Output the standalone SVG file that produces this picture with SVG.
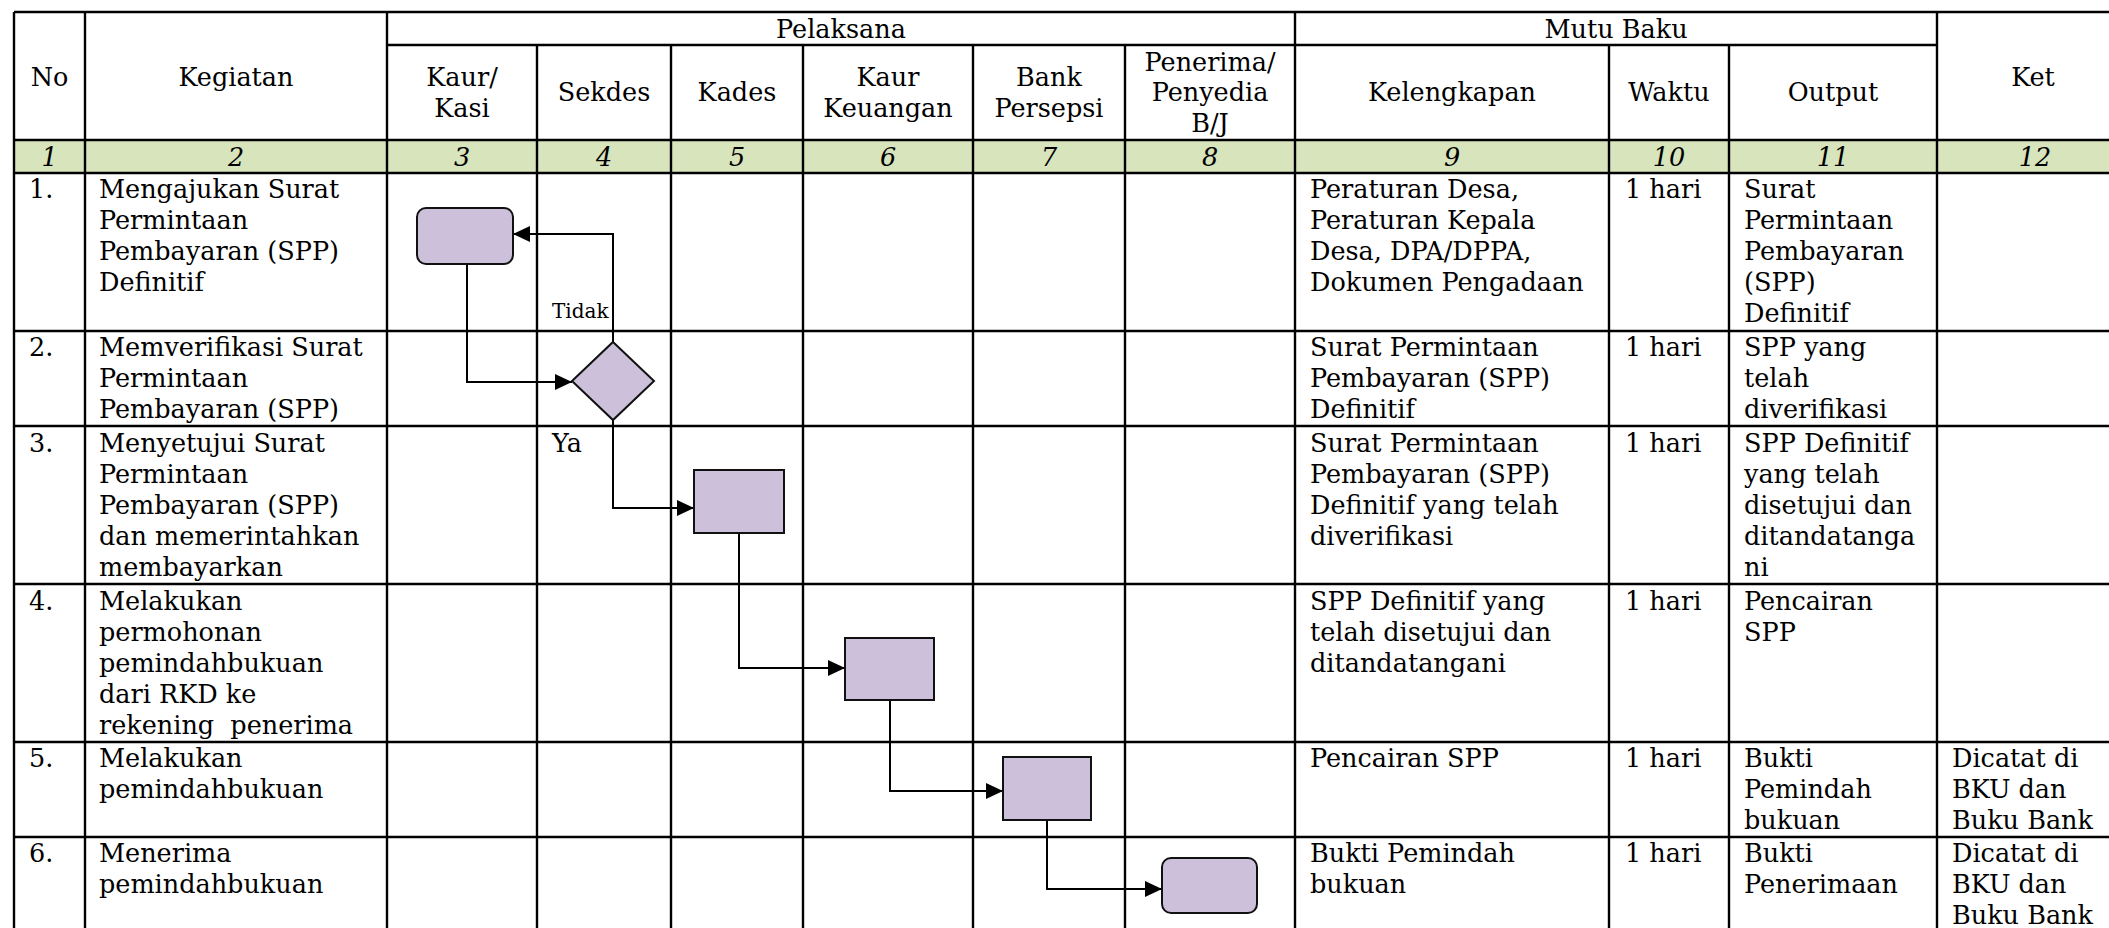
<svg xmlns="http://www.w3.org/2000/svg" width="2109" height="928" viewBox="0 0 2109 928">
<style>
.t{font-family:"DejaVu Serif","Liberation Serif",serif;font-size:25.5px;fill:#000}
.c{text-anchor:middle}
.i{font-style:italic}
.s{font-size:20px}
.grid line{stroke:#000;stroke-width:2.4}
.box{fill:#CCC0DA;stroke:#111;stroke-width:2}
.conn{fill:none;stroke:#000;stroke-width:2;marker-end:url(#arrow)}
</style>
<defs>
<marker id="arrow" markerUnits="userSpaceOnUse" markerWidth="17" markerHeight="17" viewBox="0 0 17 17" refX="17" refY="8.5" orient="auto">
<path d="M0,0.5 L17,8.5 L0,16.5 z" fill="#000"/>
</marker>
</defs>
<rect width="2109" height="928" fill="#fff"/>
<rect x="14" y="140" width="2095" height="33" fill="#D7E4BC"/>
<g id="table" class="grid">
<line x1="14" y1="12" x2="2109" y2="12"/>
<line x1="387" y1="45" x2="1937" y2="45"/>
<line x1="14" y1="140" x2="2109" y2="140"/>
<line x1="14" y1="173" x2="2109" y2="173"/>
<line x1="14" y1="331" x2="2109" y2="331"/>
<line x1="14" y1="426" x2="2109" y2="426"/>
<line x1="14" y1="584" x2="2109" y2="584"/>
<line x1="14" y1="742" x2="2109" y2="742"/>
<line x1="14" y1="837" x2="2109" y2="837"/>
<line x1="14" y1="12" x2="14" y2="928"/>
<line x1="85" y1="12" x2="85" y2="928"/>
<line x1="387" y1="12" x2="387" y2="928"/>
<line x1="537" y1="45" x2="537" y2="928"/>
<line x1="671" y1="45" x2="671" y2="928"/>
<line x1="803" y1="45" x2="803" y2="928"/>
<line x1="973" y1="45" x2="973" y2="928"/>
<line x1="1125" y1="45" x2="1125" y2="928"/>
<line x1="1295" y1="12" x2="1295" y2="928"/>
<line x1="1609" y1="45" x2="1609" y2="928"/>
<line x1="1729" y1="45" x2="1729" y2="928"/>
<line x1="1937" y1="12" x2="1937" y2="928"/>
</g>
<g id="header">
<text class="t c" x="49.5" y="86">No</text>
<text class="t c" x="236" y="86">Kegiatan</text>
<text class="t c" x="841" y="38">Pelaksana</text>
<text class="t c" x="1616" y="38">Mutu Baku</text>
<text class="t c" x="2033" y="86">Ket</text>
<text class="t c" x="462" y="86">Kaur/<tspan x="462" dy="31">Kasi</tspan></text>
<text class="t c" x="604" y="101">Sekdes</text>
<text class="t c" x="737" y="101">Kades</text>
<text class="t c" x="888" y="86">Kaur<tspan x="888" dy="31">Keuangan</tspan></text>
<text class="t c" x="1049" y="86">Bank<tspan x="1049" dy="31">Persepsi</tspan></text>
<text class="t c" x="1210" y="71">Penerima/<tspan x="1210" dy="30">Penyedia</tspan><tspan x="1210" dy="31">B/J</tspan></text>
<text class="t c" x="1452" y="101">Kelengkapan</text>
<text class="t c" x="1669" y="101">Waktu</text>
<text class="t c" x="1833" y="101">Output</text>
</g>
<g id="numbers">
<text class="t c i" x="49.5" y="166">1</text>
<text class="t c i" x="236" y="166">2</text>
<text class="t c i" x="462" y="166">3</text>
<text class="t c i" x="604" y="166">4</text>
<text class="t c i" x="737" y="166">5</text>
<text class="t c i" x="888" y="166">6</text>
<text class="t c i" x="1049" y="166">7</text>
<text class="t c i" x="1210" y="166">8</text>
<text class="t c i" x="1452" y="166">9</text>
<text class="t c i" x="1669" y="166">10</text>
<text class="t c i" x="1833" y="166">11</text>
<text class="t c i" x="2035" y="166">12</text>
</g>
<g id="row-1">
<text class="t" x="29" y="198">1.</text>
<text class="t" x="99" y="198">Mengajukan Surat<tspan x="99" dy="31">Permintaan</tspan><tspan x="99" dy="31">Pembayaran (SPP)</tspan><tspan x="99" dy="31">Definitif</tspan></text>
<text class="t" x="1310" y="198">Peraturan Desa,<tspan x="1310" dy="31">Peraturan Kepala</tspan><tspan x="1310" dy="31">Desa, DPA/DPPA,</tspan><tspan x="1310" dy="31">Dokumen Pengadaan</tspan></text>
<text class="t" x="1625" y="198">1 hari</text>
<text class="t" x="1744" y="198">Surat<tspan x="1744" dy="31">Permintaan</tspan><tspan x="1744" dy="31">Pembayaran</tspan><tspan x="1744" dy="31">(SPP)</tspan><tspan x="1744" dy="31">Definitif</tspan></text>
</g>
<g id="row-2">
<text class="t" x="29" y="356">2.</text>
<text class="t" x="99" y="356">Memverifikasi Surat<tspan x="99" dy="31">Permintaan</tspan><tspan x="99" dy="31">Pembayaran (SPP)</tspan></text>
<text class="t" x="1310" y="356">Surat Permintaan<tspan x="1310" dy="31">Pembayaran (SPP)</tspan><tspan x="1310" dy="31">Definitif</tspan></text>
<text class="t" x="1625" y="356">1 hari</text>
<text class="t" x="1744" y="356">SPP yang<tspan x="1744" dy="31">telah</tspan><tspan x="1744" dy="31">diverifikasi</tspan></text>
</g>
<g id="row-3">
<text class="t" x="29" y="452">3.</text>
<text class="t" x="99" y="452">Menyetujui Surat<tspan x="99" dy="31">Permintaan</tspan><tspan x="99" dy="31">Pembayaran (SPP)</tspan><tspan x="99" dy="31">dan memerintahkan</tspan><tspan x="99" dy="31">membayarkan</tspan></text>
<text class="t" x="1310" y="452">Surat Permintaan<tspan x="1310" dy="31">Pembayaran (SPP)</tspan><tspan x="1310" dy="31">Definitif yang telah</tspan><tspan x="1310" dy="31">diverifikasi</tspan></text>
<text class="t" x="1625" y="452">1 hari</text>
<text class="t" x="1744" y="452">SPP Definitif<tspan x="1744" dy="31">yang telah</tspan><tspan x="1744" dy="31">disetujui dan</tspan><tspan x="1744" dy="31">ditandatanga</tspan><tspan x="1744" dy="31">ni</tspan></text>
</g>
<g id="row-4">
<text class="t" x="29" y="610">4.</text>
<text class="t" x="99" y="610">Melakukan<tspan x="99" dy="31">permohonan</tspan><tspan x="99" dy="31">pemindahbukuan</tspan><tspan x="99" dy="31">dari RKD ke</tspan><tspan x="99" dy="31" xml:space="preserve">rekening  penerima</tspan></text>
<text class="t" x="1310" y="610">SPP Definitif yang<tspan x="1310" dy="31">telah disetujui dan</tspan><tspan x="1310" dy="31">ditandatangani</tspan></text>
<text class="t" x="1625" y="610">1 hari</text>
<text class="t" x="1744" y="610">Pencairan<tspan x="1744" dy="31">SPP</tspan></text>
</g>
<g id="row-5">
<text class="t" x="29" y="767">5.</text>
<text class="t" x="99" y="767">Melakukan<tspan x="99" dy="31">pemindahbukuan</tspan></text>
<text class="t" x="1310" y="767">Pencairan SPP</text>
<text class="t" x="1625" y="767">1 hari</text>
<text class="t" x="1744" y="767">Bukti<tspan x="1744" dy="31">Pemindah</tspan><tspan x="1744" dy="31">bukuan</tspan></text>
<text class="t" x="1952" y="767">Dicatat di<tspan x="1952" dy="31">BKU dan</tspan><tspan x="1952" dy="31">Buku Bank</tspan></text>
</g>
<g id="row-6">
<text class="t" x="29" y="862">6.</text>
<text class="t" x="99" y="862">Menerima<tspan x="99" dy="31">pemindahbukuan</tspan></text>
<text class="t" x="1310" y="862">Bukti Pemindah<tspan x="1310" dy="31">bukuan</tspan></text>
<text class="t" x="1625" y="862">1 hari</text>
<text class="t" x="1744" y="862">Bukti<tspan x="1744" dy="31">Penerimaan</tspan></text>
<text class="t" x="1952" y="862">Dicatat di<tspan x="1952" dy="31">BKU dan</tspan><tspan x="1952" dy="31">Buku Bank</tspan></text>
</g>
<g id="connectors">
<path class="conn" d="M467,264 V382 H572"/>
<path class="conn" d="M613,342 V234 H513"/>
<path class="conn" d="M613,420 V508 H694"/>
<path class="conn" d="M739,533 V668 H845"/>
<path class="conn" d="M890,700 V791 H1003"/>
<path class="conn" d="M1047,820 V889 H1162"/>
<text class="t s" x="552" y="318">Tidak</text>
<text class="t" x="552" y="452">Ya</text>
</g>
<g id="node-1"><rect class="box" x="417" y="208" width="96" height="56" rx="9"/></g>
<g id="node-2"><polygon class="box" points="613,342 654,381 613,420 572,381"/></g>
<g id="node-3"><rect class="box" x="694" y="470" width="90" height="63"/></g>
<g id="node-4"><rect class="box" x="845" y="638" width="89" height="62"/></g>
<g id="node-5"><rect class="box" x="1003" y="757" width="88" height="63"/></g>
<g id="node-6"><rect class="box" x="1162" y="858" width="95" height="55" rx="9"/></g>
</svg>
